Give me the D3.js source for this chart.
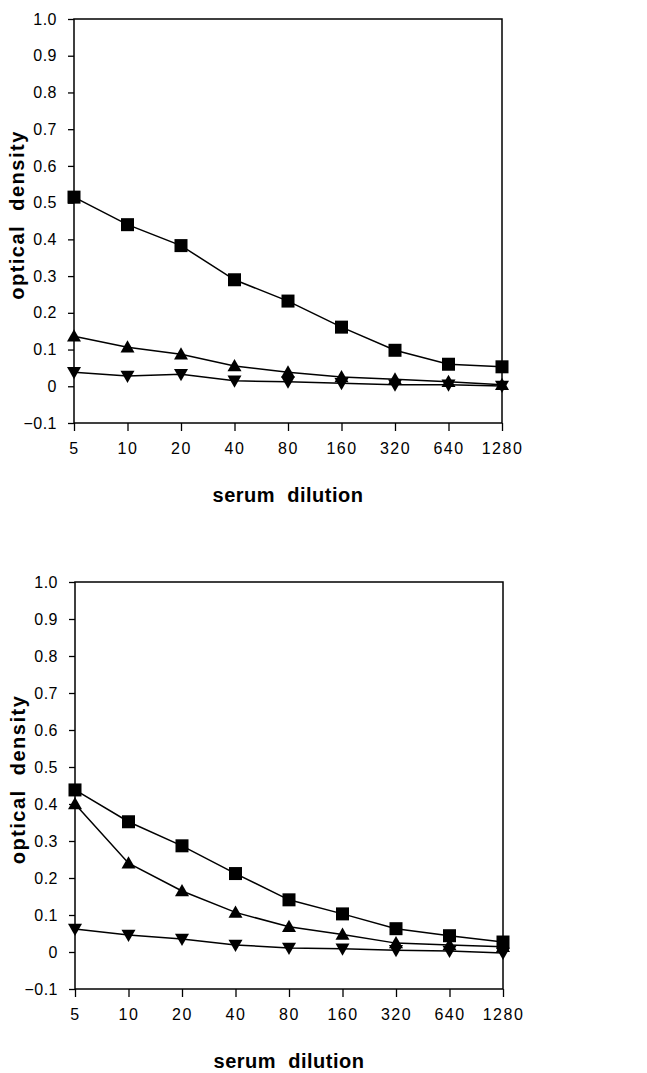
<!DOCTYPE html>
<html>
<head>
<meta charset="utf-8">
<script src="https://cdn.jsdelivr.net/npm/d3@7"></script>
<style>
  body { margin: 0; background: #fff; }
  svg text { font-family: "Liberation Sans", Arial, sans-serif; fill: #000; }
</style>
</head>
<body>
<div id="chart"></div>
<script>
// ---------- data ----------
var dilutions = [5, 10, 20, 40, 80, 160, 320, 640, 1280];
var yTicks = [-0.1, 0, 0.1, 0.2, 0.3, 0.4, 0.5, 0.6, 0.7, 0.8, 0.9, 1.0];

// top panel
var topSquare = [0.515, 0.44, 0.383, 0.29, 0.232, 0.161, 0.098, 0.06, 0.053];
var topUp     = [0.136, 0.106, 0.087, 0.055, 0.038, 0.025, 0.019, 0.012, 0.004];
var topDown   = [0.038, 0.028, 0.033, 0.015, 0.012, 0.008, 0.004, 0.004, 0.001];

// bottom panel
var botSquare = [0.438, 0.352, 0.287, 0.212, 0.141, 0.103, 0.063, 0.044, 0.027];
var botUp     = [0.40, 0.24, 0.165, 0.107, 0.068, 0.047, 0.024, 0.019, 0.014];
var botDown   = [0.062, 0.046, 0.035, 0.019, 0.011, 0.009, 0.005, 0.003, -0.003];

// ---------- setup ----------
var svgWidth = 647, svgHeight = 1073;
var svg = d3.select("#chart").append("svg")
  .attr("width", svgWidth).attr("height", svgHeight);

var panels = [
  {left: 74, top: 19, width: 428, height: 404, series: [topSquare, topUp, topDown]},
  {left: 75, top: 582, width: 428, height: 407, series: [botSquare, botUp, botDown]}
];
var shapes = ["square", "up", "down"];

function marker(g, shape, x, y) {
  if (shape === "square") {
    g.append("rect").attr("x", x - 6.5).attr("y", y - 6.5)
      .attr("width", 13).attr("height", 13).attr("fill", "#000");
  } else {
    var s = 7, pts;
    if (shape === "up") pts = [[x, y - s], [x + s, y + s * 0.75], [x - s, y + s * 0.75]];
    else pts = [[x, y + s], [x + s, y - s * 0.75], [x - s, y - s * 0.75]];
    g.append("polygon").attr("points", pts.map(p => p.join(",")).join(" ")).attr("fill", "#000");
  }
}

panels.forEach(function(p) {
  var g = svg.append("g").attr("transform", `translate(${p.left}, ${p.top})`);

  var xScale = d3.scaleLog().base(2).domain([5, 1280]).range([0, p.width]);
  var yScale = d3.scaleLinear().domain([-0.1, 1.0]).range([p.height, 0]);

  // frame
  g.append("rect").attr("x", 0).attr("y", 0).attr("width", p.width).attr("height", p.height)
    .attr("fill", "none").attr("stroke", "#000").attr("stroke-width", 1.5);

  // axes
  var yAxis = d3.axisLeft(yScale).tickValues(yTicks).tickSize(6).tickPadding(11)
    .tickFormat(d => d === 0 ? "0" : (d < 0 ? "\u22120.1" : d3.format(".1f")(d)));
  var gy = g.append("g").call(yAxis);
  gy.select(".domain").remove();
  gy.selectAll("line").attr("stroke", "#000").attr("stroke-width", 1.3);
  gy.selectAll("text").attr("font-size", "16px").style("letter-spacing", "0.5px");

  var xAxis = d3.axisBottom(xScale).tickValues(dilutions).tickSize(8).tickPadding(12)
    .tickFormat(d3.format("d"));
  var gx = g.append("g").attr("transform", `translate(0, ${p.height})`).call(xAxis);
  gx.select(".domain").remove();
  gx.selectAll("line").attr("stroke", "#000").attr("stroke-width", 1.3);
  gx.selectAll("text").attr("font-size", "16px").style("letter-spacing", "1.5px");

  // lines + markers
  var line = d3.line().x((d, i) => xScale(dilutions[i])).y(d => yScale(d));
  p.series.forEach(function(vals, k) {
    g.append("path").datum(vals).attr("d", line)
      .attr("fill", "none").attr("stroke", "#000").attr("stroke-width", 1.5);
    var mg = g.append("g");
    vals.forEach((v, i) => marker(mg, shapes[k], xScale(dilutions[i]), yScale(v)));
  });

  // axis titles
  g.append("text")
    .attr("x", p.width / 2).attr("y", p.height + 79)
    .attr("text-anchor", "middle").attr("font-size", "20px").style("font-weight", "bold")
    .style("letter-spacing", "0.5px").attr("xml:space", "preserve")
    .text("serum  dilution");

  g.append("text")
    .attr("transform", `translate(${-50}, ${p.height / 2 - 6}) rotate(-90)`)
    .attr("text-anchor", "middle").attr("font-size", "20px").style("font-weight", "bold")
    .style("letter-spacing", "1.5px").attr("xml:space", "preserve")
    .text("optical  density");
});
</script>
</body>
</html>
